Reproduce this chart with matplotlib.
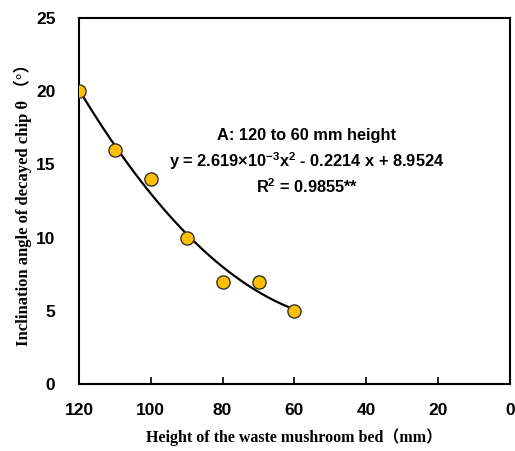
#!/usr/bin/env python3
# -*- coding: utf-8 -*-
# Ángulo de inclinación vs altura de la cama de hongos

import numpy as np
import matplotlib.pyplot as plt

# datos
altura = [120, 110, 100, 90, 80, 70, 60]
angulo = [20, 16, 14, 10, 7, 7, 5]

# coeficientes de la regresión cuadrática (a x^2 + b x + c)
coef = [2.619e-3, -0.2214, 8.9524]

xticks = [120, 100, 80, 60, 40, 20, 0]
yticks = [0, 5, 10, 15, 20, 25]

fuente_num = 'Liberation Sans'
fuente_serif = ['Liberation Serif', 'Noto Sans CJK SC', 'DejaVu Sans']

# superíndices con la misma fuente que el texto
plt.rcParams['mathtext.fontset'] = 'custom'
plt.rcParams['mathtext.rm'] = 'Liberation Sans:bold'
plt.rcParams['mathtext.default'] = 'rm'

fig = plt.figure(figsize=(5.15, 4.51), dpi=100)
ax = fig.add_axes([0.1534, 0.1486, 0.8366, 0.8114])

x_fit = np.linspace(min(altura), max(altura), 200)
y_fit = np.polyval(coef, x_fit)
ax.plot(x_fit, y_fit, color='black', lw=1.6, zorder=2)
ax.plot(altura, angulo, 'o', ms=9.5, mfc='#FFC000', mec='#333333', mew=1.0, zorder=3)

ax.set_xlim(120, 0)
ax.set_ylim(0, 25)
ax.set_xticks(xticks)
ax.set_yticks(yticks)
ax.tick_params(axis='x', direction='in', length=5, width=1.2, pad=14)
ax.tick_params(axis='y', length=0, pad=17)
for lab in ax.get_xticklabels() + ax.get_yticklabels():
    lab.set_fontfamily(fuente_num)
    lab.set_fontweight('bold')
    lab.set_fontsize(12.5)
for s in ax.spines.values():
    s.set_linewidth(1.5)

ax.set_xlabel('Height of the waste mushroom bed（mm）', family=fuente_serif,
              fontweight='bold', fontsize=11.5, labelpad=7)
ax.set_ylabel('Inclination angle of decayed chip θ （°）', family=fuente_serif,
              fontweight='bold', fontsize=12, labelpad=3)

ax.text(56.5, 17.0, 'A: 120 to 60 mm height', ha='center', va='center',
        family=fuente_num, fontweight='bold', fontsize=11.8)
ax.text(56.5, 15.25, 'y = 2.619×10$^{-3}$x$^{2}$ - 0.2214 x + 8.9524', ha='center',
        va='center', family=fuente_num, fontweight='bold', fontsize=11.8)
ax.text(56.5, 13.5, 'R$^{2}$ = 0.9855**', ha='center', va='center',
        family=fuente_num, fontweight='bold', fontsize=11.8)

plt.savefig('out.png', dpi=100)
